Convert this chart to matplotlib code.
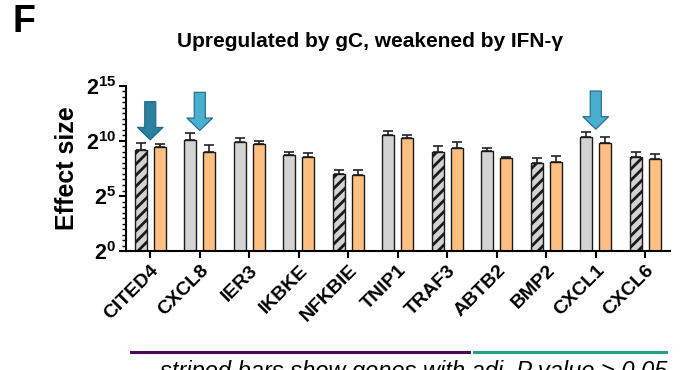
import numpy as np
import matplotlib
matplotlib.use('Agg')
import matplotlib.pyplot as plt
from matplotlib.ticker import FixedLocator, FixedFormatter, NullFormatter

plt.rcParams['font.family'] = ['Liberation Sans', 'DejaVu Sans']
plt.rcParams['mathtext.fontset'] = 'custom'
plt.rcParams['mathtext.rm'] = 'Liberation Sans'
plt.rcParams['mathtext.bf'] = 'Liberation Sans:bold'
plt.rcParams['hatch.linewidth'] = 2.0

# data (log2 of effect size)
genes = ['CITED4', 'CXCL8', 'IER3', 'IKBKE', 'NFKBIE', 'TNIP1',
         'TRAF3', 'ABTB2', 'BMP2', 'CXCL1', 'CXCL6']
gc_log2 = [9.18, 10.09, 9.88, 8.70, 6.97, 10.52, 9.00, 9.09, 8.00, 10.33, 8.58]
gc_err_log2 = [9.85, 10.70, 10.30, 8.97, 7.33, 10.94, 9.55, 9.39, 8.48, 10.82, 9.00]
ifn_log2 = [9.48, 9.00, 9.70, 8.57, 6.94, 10.24, 9.33, 8.48, 8.06, 9.79, 8.33]
ifn_err_log2 = [9.70, 9.60, 10.03, 8.94, 7.36, 10.58, 9.88, 8.55, 8.60, 10.33, 8.79]
striped = ['CITED4', 'NFKBIE', 'TRAF3', 'BMP2', 'CXCL6']
arrow_genes = ['CITED4', 'CXCL8', 'CXCL1']
arrow_fill = ['#2a809e', '#4aafcf', '#4aafcf']
ytick_exp = [0, 5, 10, 15]

gc = 2.0 ** np.array(gc_log2)
gc_hi = 2.0 ** np.array(gc_err_log2)
ifn = 2.0 ** np.array(ifn_log2)
ifn_hi = 2.0 ** np.array(ifn_err_log2)

fig = plt.figure(figsize=(6.86, 3.70), dpi=100)
ax = fig.add_axes([0.1837, 0.3216, 0.7930, 0.4460])

x = np.arange(len(genes))
w = 0.245
off = 0.19

for i, g in enumerate(genes):
    hatch = '///' if g in striped else None
    ax.bar(x[i] - off, gc[i] - 1, bottom=1, width=w, color='#d3d3d3',
           edgecolor='#1a1a1a', linewidth=1.0, hatch=hatch, zorder=2)
ax.bar(x + off, ifn - 1, bottom=1, width=w, color='#ffbf80',
       edgecolor='#1a1a1a', linewidth=1.0, zorder=2)

ax.errorbar(x - off, gc, yerr=[np.zeros_like(gc), gc_hi - gc], fmt='none',
            ecolor='#222222', elinewidth=1.2, capsize=3.5, capthick=1.2, zorder=1)
ax.errorbar(x + off, ifn, yerr=[np.zeros_like(ifn), ifn_hi - ifn], fmt='none',
            ecolor='#222222', elinewidth=1.2, capsize=3.5, capthick=1.2, zorder=1)

for g, c in zip(arrow_genes, arrow_fill):
    i = genes.index(g)
    top = max(gc_hi[i], ifn_hi[i])
    ax.annotate('', xy=(x[i], top), xytext=(0, 41), textcoords='offset pixels',
                arrowprops=dict(arrowstyle='simple,head_length=0.9,head_width=1.85,tail_width=0.8',
                                mutation_scale=10, facecolor=c, edgecolor='#1f6784',
                                linewidth=0.8, shrinkA=0, shrinkB=2))

ax.set_yscale('log', base=2)
ax.set_ylim(1, 2 ** 15)
ax.set_xlim(-0.49, 10.5)
ax.yaxis.set_major_locator(FixedLocator([2.0 ** e for e in ytick_exp]))
ax.yaxis.set_major_formatter(FixedFormatter([r'$\mathbf{2^{%d}}$' % e for e in ytick_exp]))
ax.yaxis.set_minor_locator(FixedLocator([2.0 ** (e / 2) for e in range(31)]))
ax.yaxis.set_minor_formatter(NullFormatter())

ax.set_xticks(x)
ax.set_xticklabels(genes, rotation=45, ha='right', rotation_mode='anchor',
                   fontsize=14, fontweight='bold')

for s in ['top', 'right']:
    ax.spines[s].set_visible(False)
for s in ['left', 'bottom']:
    ax.spines[s].set_linewidth(1.5)
ax.tick_params(axis='y', which='major', length=5, width=1.5, pad=2, labelsize=15.5)
ax.tick_params(axis='y', which='minor', length=3, width=1.0)
ax.tick_params(axis='x', which='major', length=5, width=1.5, pad=3)

ax.set_ylabel('Effect size', fontsize=18, fontweight='bold', labelpad=5)

fig.text(0.54, 0.889, 'Upregulated by gC, weakened by IFN-γ', ha='center', va='center',
         fontsize=15, fontweight='bold')
fig.text(0.018, 0.94, 'F', ha='left', va='center', fontsize=27, fontweight='bold')

fig.add_artist(plt.Line2D([131 / 686, 469 / 686], [1 - 352 / 370] * 2,
                          color='#4b0a55', linewidth=2.2))
fig.add_artist(plt.Line2D([474 / 686, 666 / 686], [1 - 352 / 370] * 2,
                          color='#23a383', linewidth=2.2))
fig.text(667 / 686, 1 - 378 / 370, 'striped bars show genes with adj. P value > 0.05',
         ha='right', va='baseline', fontsize=17, style='italic')

fig.savefig('out.png', dpi=100)
